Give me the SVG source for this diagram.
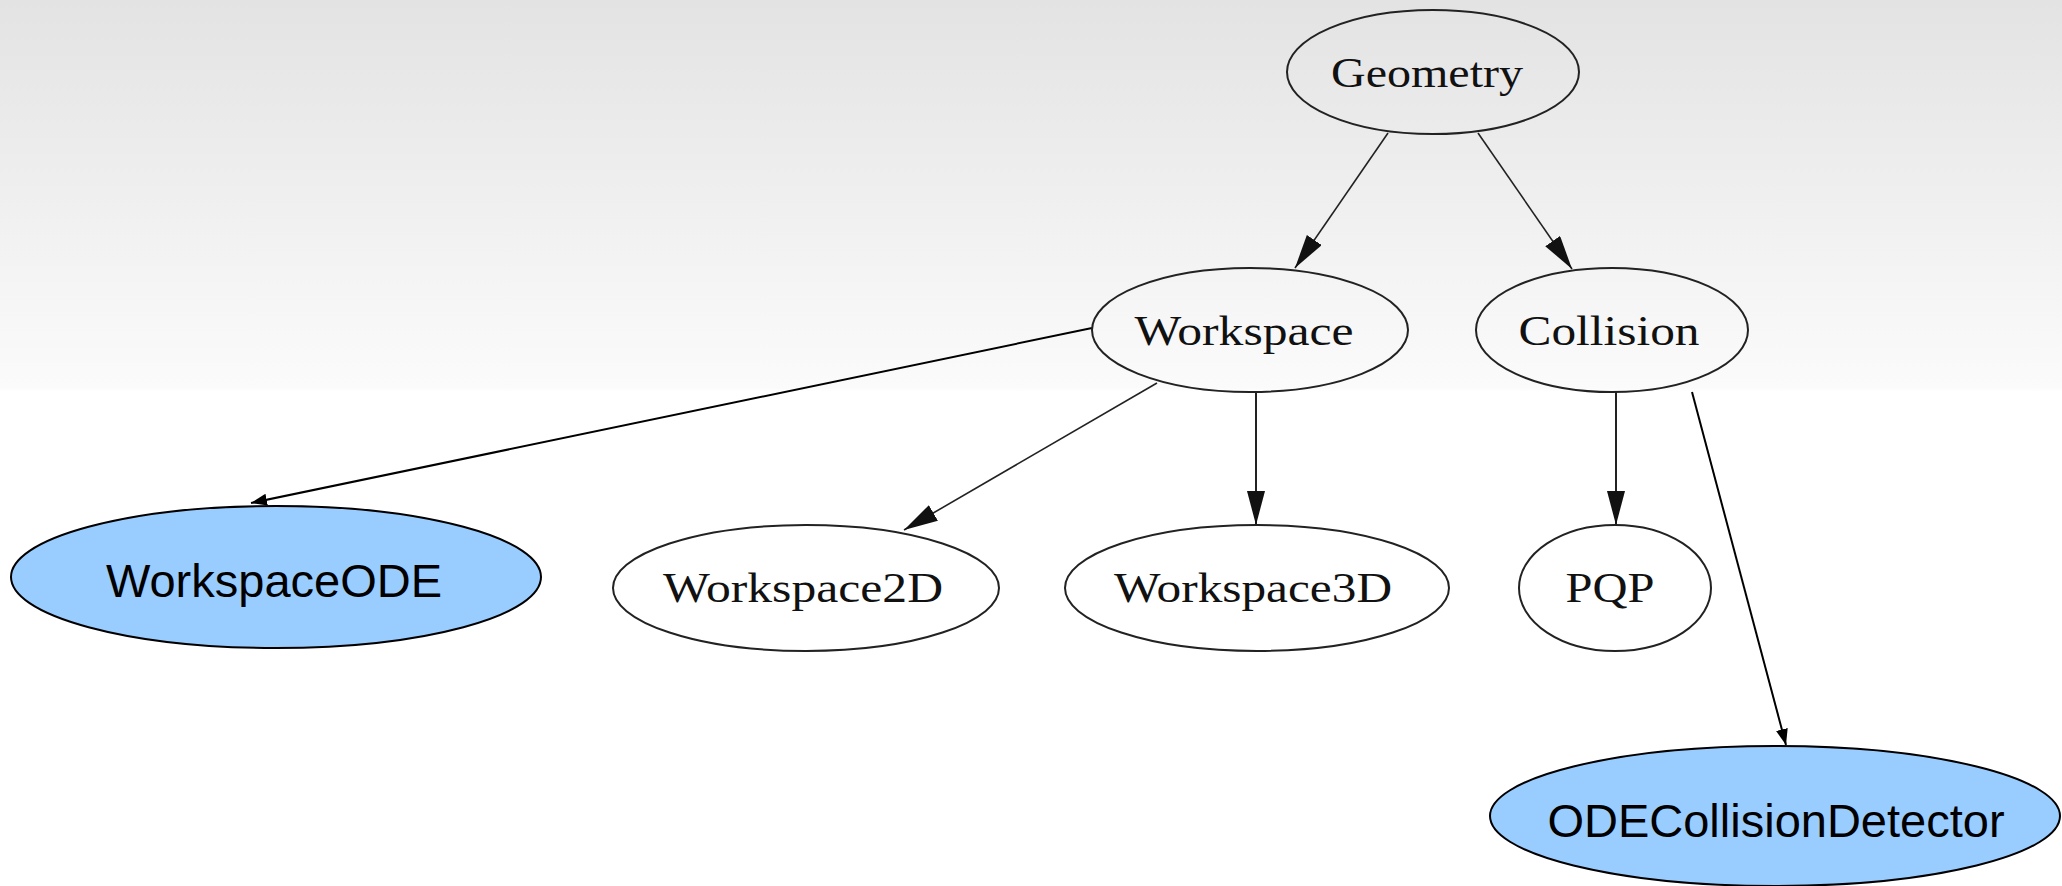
<svg xmlns="http://www.w3.org/2000/svg" width="2062" height="886" viewBox="0 0 2062 886">
<defs>
<linearGradient id="bg" x1="0" y1="0" x2="0" y2="886" gradientUnits="userSpaceOnUse">
<stop offset="0" stop-color="#e3e3e3"/>
<stop offset="0.438" stop-color="#fbfbfb"/>
<stop offset="0.442" stop-color="#ffffff"/>
<stop offset="1" stop-color="#ffffff"/>
</linearGradient>
<marker id="big" markerUnits="userSpaceOnUse" markerWidth="36" markerHeight="20" refX="34" refY="9" orient="auto" viewBox="0 0 36 20">
<path d="M0,0 L34,9 L0,18 Z" fill="#111"/>
</marker>
<marker id="small" markerUnits="userSpaceOnUse" markerWidth="18" markerHeight="14" refX="16" refY="6" orient="auto" viewBox="0 0 18 14">
<path d="M0,0 L16,6 L0,12 Z" fill="#000"/>
</marker>
</defs>
<style>
.gv ellipse{fill:none;stroke:#222;stroke-width:2}
.gv text{font-family:"Liberation Serif","Times New Roman",serif;font-size:42px;fill:#111;text-anchor:middle}
.ode ellipse{fill:#99ccff;stroke:#000;stroke-width:2}
.ode text{font-family:"Liberation Sans",Arial,sans-serif;font-size:47px;fill:#000;text-anchor:middle}
.e-gv{stroke:#222;stroke-width:1.6;fill:none;marker-end:url(#big)}
.e-ode{stroke:#000;stroke-width:2;fill:none;marker-end:url(#small)}
</style>
<rect x="0" y="0" width="2062" height="886" fill="url(#bg)"/>
<g id="connectors">
<line class="e-gv" x1="1388" y1="133" x2="1295" y2="268"/>
<line class="e-gv" x1="1478" y1="133" x2="1572" y2="269"/>
<line class="e-gv" x1="1157" y1="383" x2="904" y2="530"/>
<line class="e-gv" x1="1256" y1="392" x2="1256" y2="525" style="stroke-width:2"/>
<line class="e-gv" x1="1616" y1="392" x2="1616" y2="525" style="stroke-width:2"/>
<line class="e-ode" x1="1092" y1="328" x2="251" y2="503"/>
<line class="e-ode" x1="1692" y1="392" x2="1786" y2="745"/>
</g>
<g id="node-geometry" class="gv">
<ellipse cx="1433" cy="72" rx="146" ry="62"/>
<text x="1427" y="87" textLength="192" lengthAdjust="spacingAndGlyphs">Geometry</text>
</g>
<g id="node-workspace" class="gv">
<ellipse cx="1250" cy="330" rx="158" ry="62"/>
<text x="1244" y="345" textLength="219" lengthAdjust="spacingAndGlyphs">Workspace</text>
</g>
<g id="node-collision" class="gv">
<ellipse cx="1612" cy="330" rx="136" ry="62"/>
<text x="1609" y="345" textLength="181" lengthAdjust="spacingAndGlyphs">Collision</text>
</g>
<g id="node-workspace2d" class="gv">
<ellipse cx="806" cy="588" rx="193" ry="63"/>
<text x="803" y="602" textLength="280" lengthAdjust="spacingAndGlyphs">Workspace2D</text>
</g>
<g id="node-workspace3d" class="gv">
<ellipse cx="1257" cy="588" rx="192" ry="63"/>
<text x="1253" y="602" textLength="278" lengthAdjust="spacingAndGlyphs">Workspace3D</text>
</g>
<g id="node-pqp" class="gv">
<ellipse cx="1615" cy="588" rx="96" ry="63"/>
<text x="1610" y="602" textLength="89" lengthAdjust="spacingAndGlyphs">PQP</text>
</g>
<g id="node-workspaceode" class="ode">
<ellipse cx="276" cy="577" rx="265" ry="71"/>
<text x="274" y="597">WorkspaceODE</text>
</g>
<g id="node-odecollisiondetector" class="ode">
<ellipse cx="1775" cy="816" rx="285" ry="70"/>
<text x="1776" y="837">ODECollisionDetector</text>
</g>
</svg>
